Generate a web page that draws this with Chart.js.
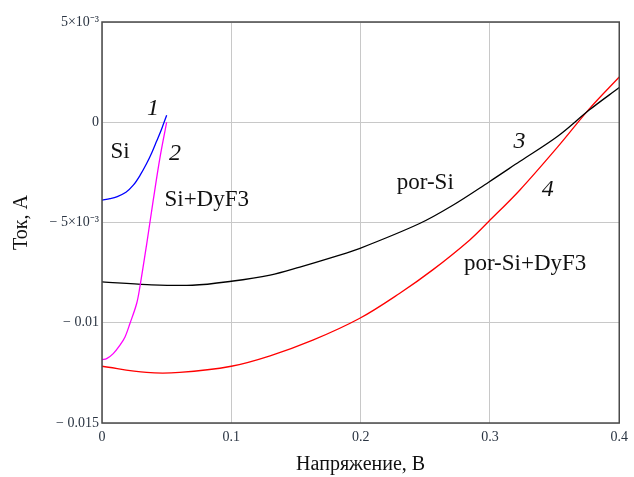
<!DOCTYPE html>
<html>
<head>
<meta charset="utf-8">
<script src="https://cdn.jsdelivr.net/npm/chart.js@4/dist/chart.umd.min.js"></script>
<style>
  html, body { margin: 0; padding: 0; background: #fff; }
  #wrap { width: 634px; height: 477px; }
</style>
</head>
<body>
<div id="wrap"><canvas id="grafica" width="634" height="477"></canvas></div>
<script>
// Si
const siV = [0, 0.0062, 0.0113, 0.0185, 0.0242, 0.0295, 0.0345, 0.0385, 0.0422, 0.0462, 0.05];
const siI = [-0.00389, -0.00381, -0.00372, -0.00349, -0.00314, -0.00264, -0.00206, -0.00152, -0.00095, -0.00032, 0.00035];

// Si+DyF3
const siDyV = [0, 0.0036, 0.0087, 0.0139, 0.0178, 0.0216, 0.0268, 0.0293, 0.0345, 0.0396, 0.0448, 0.05];
const siDyI = [-0.01184, -0.01179, -0.01154, -0.01112, -0.01071, -0.01004, -0.00904, -0.00821, -0.0061, -0.0039, -0.00178, 0];

// por-Si
const porV = [0, 0.035, 0.07, 0.1, 0.13, 0.153, 0.18, 0.199, 0.2456, 0.2713, 0.299, 0.323, 0.3524, 0.377, 0.4];
const porI = [-0.00796, -0.0081, -0.00813, -0.00793, -0.00762, -0.00722, -0.0067, -0.0063, -0.00505, -0.00414, -0.00299, -0.00196, -0.0007, 0.00062, 0.00173];

// por-Si+DyF3
const porDyV = [0, 0.0345, 0.06, 0.1, 0.13, 0.163, 0.199, 0.23, 0.256, 0.2842, 0.299, 0.323, 0.3524, 0.377, 0.4];
const porDyI = [-0.01217, -0.01248, -0.01248, -0.01217, -0.01165, -0.01087, -0.00979, -0.00854, -0.00735, -0.00588, -0.00495, -0.00339, -0.00123, 0.00068, 0.00226];

// ticks
const xTicks = [0, 0.1, 0.2, 0.3, 0.4];
const xTickLabels = ['0', '0.1', '0.2', '0.3', '0.4'];
const yTicks = [0.005, 0, -0.005, -0.01, -0.015];
const yTickLabels = ['5×10⁻³', '0', '− 5×10⁻³', '− 0.01', '− 0.015'];

// text on the plot: [text, V, I, italic]
const notas = [
    ['1', 0.0394, 0.0007, true],
    ['Si', 0.0139, -0.0015, false],
    ['2', 0.0564, -0.00155, true],
    ['Si+DyF3', 0.081, -0.00389, false],
    ['por-Si', 0.25, -0.00303, false],
    ['3', 0.3228, -0.00098, true],
    ['4', 0.3447, -0.00336, true],
    ['por-Si+DyF3', 0.3272, -0.00705, false]
];

const serif = '"Liberation Serif", "Times New Roman", serif';

function puntos(xs, ys) {
    return xs.map((x, i) => ({ x: x, y: ys[i] }));
}

function serie(xs, ys, color) {
    return {
        data: puntos(xs, ys),
        borderColor: color,
        borderWidth: 1.3,
        pointRadius: 0,
        fill: false,
        tension: 0.35
    };
}

const marcoYNotas = {
    id: 'marcoYNotas',
    afterDatasetsDraw(chart) {
        const ctx = chart.ctx;
        const a = chart.chartArea;
        const sx = chart.scales.x;
        const sy = chart.scales.y;
        ctx.save();
        ctx.strokeStyle = '#4a4a4a';
        ctx.lineWidth = 1.5;
        ctx.strokeRect(a.left, a.top, a.right - a.left, a.bottom - a.top);

        ctx.fillStyle = '#111';
        ctx.textAlign = 'center';
        ctx.textBaseline = 'middle';
        notas.forEach(n => {
            ctx.font = n[3] ? 'italic 24px ' + serif : '23px ' + serif;
            ctx.fillText(n[0], sx.getPixelForValue(n[1]), sy.getPixelForValue(n[2]));
        });
        ctx.restore();
    }
};

const ctx = document.getElementById('grafica').getContext('2d');
new Chart(ctx, {
    type: 'line',
    data: {
        datasets: [
            serie(siV, siI, '#0000ff'),
            serie(siDyV, siDyI, '#ff00ff'),
            serie(porV, porI, '#000000'),
            serie(porDyV, porDyI, '#ff0000')
        ]
    },
    options: {
        responsive: false,
        animation: false,
        layout: { padding: { top: 22, right: 14, left: 0, bottom: 0 } },
        plugins: {
            legend: { display: false },
            tooltip: { enabled: false }
        },
        scales: {
            x: {
                type: 'linear',
                min: 0,
                max: 0.4,
                afterBuildTicks: function (scale) {
                    scale.ticks = xTicks.map(v => ({ value: v }));
                },
                afterFit: function (scale) {
                    scale.height = 54;
                },
                grid: { color: '#c8c8c8', lineWidth: 1, drawTicks: false },
                border: { display: false },
                ticks: {
                    padding: 6,
                    maxRotation: 0,
                    color: '#2a3442',
                    font: { family: serif, size: 14 },
                    callback: function (value) {
                        const i = xTicks.findIndex(t => Math.abs(t - value) < 1e-9);
                        return i >= 0 ? xTickLabels[i] : '';
                    }
                },
                title: {
                    display: true,
                    text: 'Напряжение, В',
                    color: '#111',
                    font: { family: serif, size: 20 },
                    padding: { top: 0, bottom: 0 }
                }
            },
            y: {
                type: 'linear',
                min: -0.015,
                max: 0.005,
                afterBuildTicks: function (scale) {
                    scale.ticks = yTicks.map(v => ({ value: v }));
                },
                afterFit: function (scale) {
                    scale.width = 102;
                },
                grid: { color: '#c8c8c8', lineWidth: 1, drawTicks: false },
                border: { display: false },
                ticks: {
                    padding: 3,
                    color: '#2a3442',
                    font: { family: serif, size: 14 },
                    callback: function (value) {
                        const i = yTicks.findIndex(t => Math.abs(t - value) < 1e-9);
                        return i >= 0 ? yTickLabels[i] : '';
                    }
                },
                title: {
                    display: true,
                    text: 'Ток, А',
                    color: '#111',
                    font: { family: serif, size: 20 },
                    padding: { top: 10, bottom: 0 }
                }
            }
        }
    },
    plugins: [marcoYNotas]
});
</script>
</body>
</html>
